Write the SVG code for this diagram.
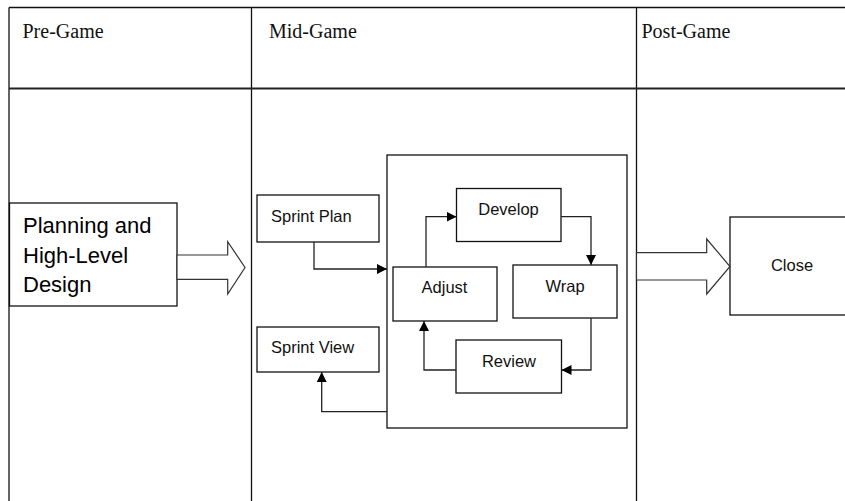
<svg xmlns="http://www.w3.org/2000/svg" width="845" height="501" viewBox="0 0 845 501">
  <style>
    .grid { stroke: #111; stroke-width: 1.3; fill: none; }
    .box { fill: #fff; stroke: #111; stroke-width: 1.3; }
    .hdr { font-family: "Liberation Serif", "Times New Roman", serif; font-size: 20px; fill: #111; }
    .lbl { font-family: "Liberation Sans", Arial, sans-serif; font-size: 16.5px; fill: #111; }
    .big { font-family: "Liberation Sans", Arial, sans-serif; font-size: 22px; fill: #000; }
    .flow { fill: none; stroke: #222; stroke-width: 1.3; marker-end: url(#head); }
    .block { fill: #fff; stroke: #333; stroke-width: 1.2; }
  </style>
  <defs>
    <marker id="head" markerUnits="userSpaceOnUse" markerWidth="10" markerHeight="10" refX="10" refY="5" orient="auto">
      <path d="M0,0 L10,5 L0,10 z" fill="#000"/>
    </marker>
  </defs>

  <rect width="845" height="501" fill="#fff"/>

  <!-- phase table -->
  <g id="table">
    <path class="grid" d="M9,7.5 H845 M9,7.5 V501 M251.5,7.5 V501 M636.5,7.5 V501"/>
    <path d="M9,88.5 H845" stroke="#222" stroke-width="2" fill="none"/>
    <text class="hdr" x="22.5" y="38">Pre-Game</text>
    <text class="hdr" x="269" y="38">Mid-Game</text>
    <text class="hdr" x="641.5" y="38">Post-Game</text>
  </g>

  <!-- sprint container -->
  <g id="sprint-cycle">
    <rect class="box" x="387" y="155" width="240" height="273"/>
  </g>

  <g id="planning">
    <rect class="box" x="9.5" y="203" width="167.5" height="103"/>
    <text class="big" x="23" y="233">Planning and</text>
    <text class="big" x="23" y="263">High-Level</text>
    <text class="big" x="23" y="292">Design</text>
  </g>

  <g id="sprint-plan">
    <rect class="box" x="257" y="195" width="122" height="47"/>
    <text class="lbl" x="271" y="222">Sprint Plan</text>
  </g>

  <g id="sprint-view">
    <rect class="box" x="257" y="327" width="122" height="45"/>
    <text class="lbl" x="271" y="353">Sprint View</text>
  </g>

  <g id="develop">
    <rect class="box" x="456.5" y="188.5" width="104.5" height="53"/>
    <text class="lbl" x="508.5" y="215" text-anchor="middle">Develop</text>
  </g>

  <g id="adjust">
    <rect class="box" x="393" y="267" width="104" height="54"/>
    <text class="lbl" x="444.5" y="293" text-anchor="middle">Adjust</text>
  </g>

  <g id="wrap">
    <rect class="box" x="513" y="265" width="104" height="53"/>
    <text class="lbl" x="565" y="292" text-anchor="middle">Wrap</text>
  </g>

  <g id="review">
    <rect class="box" x="456" y="340" width="105.5" height="53"/>
    <text class="lbl" x="509" y="367" text-anchor="middle">Review</text>
  </g>

  <g id="close">
    <rect class="box" x="730" y="217" width="130" height="98"/>
    <text class="lbl" x="792" y="271" text-anchor="middle">Close</text>
  </g>

  <!-- connectors -->
  <g id="connectors">
    <polygon class="block" points="177,255 227.7,255 227.7,241.7 245,267.5 227.7,294 227.7,279.3 177,279.3"/>
    <polygon class="block" points="636.5,252.7 706.7,252.7 706.7,239 730,266.5 706.7,294 706.7,280 636.5,280"/>
    <path class="flow" d="M314,242 V269 H387"/>
    <path class="flow" d="M387,411.7 H321.7 V372"/>
    <path class="flow" d="M426,267 V216.7 H456.5"/>
    <path class="flow" d="M561,216.7 H591 V265"/>
    <path class="flow" d="M591,318 V370 H561.5"/>
    <path class="flow" d="M456,370 H424 V321"/>
  </g>
</svg>
